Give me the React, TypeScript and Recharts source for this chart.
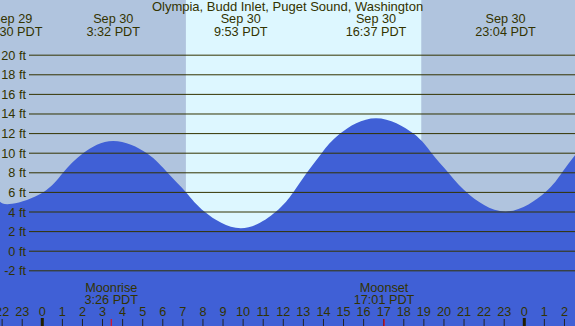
import { Area, AreaChart, ReferenceArea, XAxis, YAxis } from "recharts";

// tide height (hours from Sep 30 00:00 PDT, feet)
const tideHours = [-2.11, -1.5, 0.03, 1.03, 2.03, 3.533, 5.21, 6.24, 7.16, 8.1, 9.883, 11.61, 12.49, 13.17, 13.91, 14.83, 16.617, 18.48, 19.39, 20.22, 21.14, 23.067, 25.03, 25.87, 26.53];
const tideFeet = [5.05, 4.83, 6, 8, 10, 11.25, 10, 8, 6, 4, 2.35, 4, 6, 8, 10, 12, 13.57, 12, 10, 8, 6, 4.06, 6, 8, 9.8];

const footTicks = [-2, 0, 2, 4, 6, 8, 10, 12, 14, 16, 18, 20];
const hourTicks = [-2, -1, 0, 1, 2, 3, 4, 5, 6, 7, 8, 9, 10, 11, 12, 13, 14, 15, 16, 17, 18, 19, 20, 21, 22, 23, 24, 25, 26];

const extremeHours = [-1.5, 3.533, 9.883, 16.617, 23.067];
const extremeDates = ["Sep 29", "Sep 30", "Sep 30", "Sep 30", "Sep 30"];
const extremeTimes = ["22:30 PDT", "3:32 PDT", "9:53 PDT", "16:37 PDT", "23:04 PDT"];

const moonHours = [3.433, 17.017];
const moonEvents = ["Moonrise", "Moonset"];
const moonTimes = ["3:26 PDT", "17:01 PDT"];

const sunrise = 7.15;
const sunset = 18.87;

const W = 575;
const H = 326;
const INK = "#333300";
const FONT = "'Liberation Sans', Arial, sans-serif";
const FS = 12.7;
const X_DOMAIN = [-2.106, 26.525];

const tide = tideHours.map((h, i) => ({ h, ft: tideFeet[i] }));

function FootTick({ y, payload }: any) {
  return (
    <g>
      <text x={26} y={y + 4.5} textAnchor="end" fill={INK} fontFamily={FONT} fontSize={FS}>
        {payload.value} ft
      </text>
      <line x1={29} x2={W} y1={y} y2={y} stroke={INK} strokeWidth={1} />
    </g>
  );
}

function HourTick({ x, payload }: any) {
  const h = payload.value;
  const midnight = h % 24 === 0;
  return (
    <g>
      <line x1={x} x2={x} y1={H} y2={H - (midnight ? 8 : 7)} stroke={midnight ? "#221f00" : "#222"} strokeWidth={midnight ? 3 : 1} />
      <text x={x} y={H - 10} textAnchor="middle" fill={INK} fontFamily={FONT} fontSize={FS}>
        {((h % 24) + 24) % 24}
      </text>
    </g>
  );
}

function MoonTick({ x, index }: any) {
  return (
    <g>
      <line x1={x} x2={x} y1={H} y2={H - 7} stroke="#ff0000" strokeWidth={1} />
      <text x={x} y={292} textAnchor="middle" fill={INK} fontFamily={FONT} fontSize={FS}>
        {moonEvents[index]}
      </text>
      <text x={x} y={304.3} textAnchor="middle" fill={INK} fontFamily={FONT} fontSize={FS}>
        {moonTimes[index]}
      </text>
    </g>
  );
}

function ExtremeTick({ x, index }: any) {
  return (
    <g>
      <text x={x} y={22.7} textAnchor="middle" fill={INK} fontFamily={FONT} fontSize={FS}>
        {extremeDates[index]}
      </text>
      <text x={x} y={36} textAnchor="middle" fill={INK} fontFamily={FONT} fontSize={FS}>
        {extremeTimes[index]}
      </text>
    </g>
  );
}

export default function App() {
  return (
    <div style={{ position: "absolute", left: 0, top: 0, width: W, height: H, background: "#b0c4de", overflow: "hidden" }}>
      <AreaChart width={W} height={H} data={tide} margin={{ top: -1, right: 0, bottom: -2, left: -1 }}>
        <XAxis dataKey="h" type="number" domain={X_DOMAIN} allowDataOverflow ticks={hourTicks} interval={0} height={1} axisLine={false} tickLine={false} tick={<HourTick />} />
        <XAxis xAxisId="moon" dataKey="h" type="number" domain={X_DOMAIN} allowDataOverflow ticks={moonHours} interval={0} height={1} axisLine={false} tickLine={false} tick={<MoonTick />} />
        <XAxis xAxisId="top" dataKey="h" orientation="top" type="number" domain={X_DOMAIN} allowDataOverflow ticks={extremeHours} interval={0} height={1} axisLine={false} tickLine={false} tick={<ExtremeTick />} />
        <ReferenceArea x1={sunrise} x2={sunset} fill="#ddf7ff" fillOpacity={1} stroke="none" />
        <Area type="natural" dataKey="ft" stroke="none" fill="#4060d6" fillOpacity={1} baseValue="dataMin" isAnimationActive={false} />
        <YAxis type="number" domain={[-7.63, 25.63]} allowDataOverflow ticks={footTicks} interval={0} width={1} axisLine={false} tickLine={false} tick={<FootTick />} />
      </AreaChart>
      <div style={{ position: "absolute", left: 0, top: 0, width: W, textAlign: "center", fontFamily: FONT, fontSize: 13, lineHeight: "13px", color: INK }}>
        Olympia, Budd Inlet, Puget Sound, Washington
      </div>
    </div>
  );
}
